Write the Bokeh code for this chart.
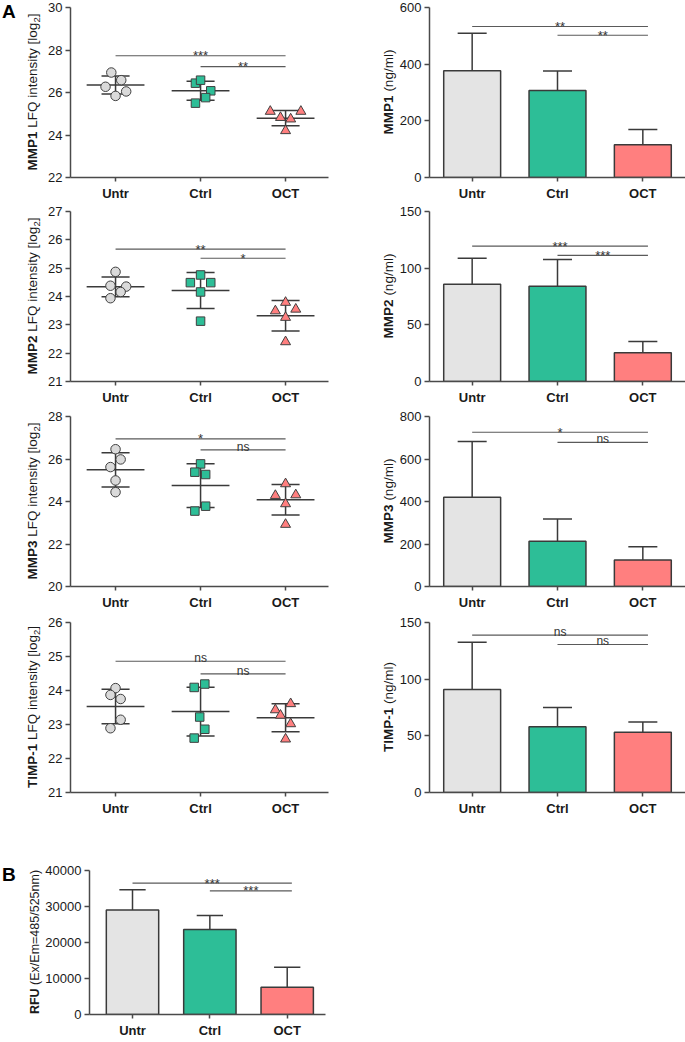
from bokeh.plotting import figure
from bokeh.models import Range1d, FixedTicker, Div
from bokeh.layouts import column, row
from bokeh.core.properties import value
from bokeh.embed import file_html
from bokeh.resources import INLINE

# ---------------- data ----------------
categories = ["Untr", "Ctrl", "OCT"]

# LFQ intensities (log2), 5 replicates per group
mmp1_lfq = [[26.94, 26.58, 26.27, 26.05, 25.84],
            [26.44, 26.58, 26.08, 25.76, 25.50],
            [25.11, 25.11, 24.82, 24.75, 24.20]]
mmp1_lfq_jitter = [[-0.05, 0.067, -0.118, 0.125, 0.0],
                   [-0.06, 0.0, 0.12, 0.06, -0.06],
                   [-0.18, 0.18, -0.06, 0.06, 0.0]]
mmp1_lfq_mean = [26.35, 26.08, 24.79]
mmp1_lfq_sd = [0.425, 0.45, 0.36]
mmp1_lfq_sig_y = [27.73, 27.22]
mmp1_lfq_sig = ["***", "**"]

mmp2_lfq = [[24.87, 24.38, 24.35, 24.16, 23.94],
            [24.76, 24.49, 24.49, 24.16, 23.13],
            [23.79, 23.49, 23.55, 23.26, 22.40]]
mmp2_lfq_jitter = [[0.0, -0.06, 0.125, 0.06, -0.06],
                   [0.0, -0.12, 0.12, 0.0, 0.0],
                   [0.0, -0.12, 0.12, 0.0, 0.0]]
mmp2_lfq_mean = [24.34, 24.21, 23.32]
mmp2_lfq_sd = [0.35, 0.635, 0.54]
mmp2_lfq_sig_y = [25.67, 25.35]
mmp2_lfq_sig = ["**", "*"]

mmp3_lfq = [[26.46, 25.98, 25.62, 24.99, 24.44],
            [25.77, 25.38, 25.27, 23.78, 23.55],
            [24.83, 24.28, 24.31, 23.89, 22.92]]
mmp3_lfq_jitter = [[0.0, 0.06, -0.06, 0.0, 0.0],
                   [0.0, -0.067, 0.06, 0.06, -0.067],
                   [0.0, -0.12, 0.12, 0.0, 0.0]]
mmp3_lfq_mean = [25.49, 24.75, 24.08]
mmp3_lfq_sd = [0.81, 1.03, 0.72]
mmp3_lfq_sig_y = [26.95, 26.43]
mmp3_lfq_sig = ["*", "ns"]

timp1_lfq = [[24.07, 23.87, 23.75, 23.14, 22.89],
             [24.09, 24.19, 23.22, 22.86, 22.60],
             [23.61, 23.43, 23.27, 23.02, 22.57]]
timp1_lfq_jitter = [[0.0, -0.06, 0.06, 0.06, -0.06],
                    [-0.075, 0.05, -0.01, 0.05, -0.075],
                    [0.06, -0.12, -0.06, 0.06, 0.0]]
timp1_lfq_mean = [23.53, 23.38, 23.20]
timp1_lfq_sd = [0.51, 0.715, 0.41]
timp1_lfq_sig_y = [24.86, 24.49]
timp1_lfq_sig = ["ns", "ns"]

# ELISA concentrations (ng/ml), mean and SD
mmp1_ng = [377, 307, 116]
mmp1_ng_sd = [132, 69, 53]
mmp1_ng_sig_y = [533, 502]
mmp1_ng_sig = ["**", "**"]

mmp2_ng = [85.9, 84.1, 25.3]
mmp2_ng_sd = [22.9, 23.5, 10.0]
mmp2_ng_sig_y = [119.4, 111.2]
mmp2_ng_sig = ["***", "***"]

mmp3_ng = [420, 213, 125]
mmp3_ng_sd = [262, 105, 62]
mmp3_ng_sig_y = [726, 678]
mmp3_ng_sig = ["*", "ns"]

timp1_ng = [90.9, 58.0, 53.2]
timp1_ng_sd = [41.7, 17.0, 8.9]
timp1_ng_sig_y = [138.8, 130.6]
timp1_ng_sig = ["ns", "ns"]

# Panel B: RFU
rfu = [29000, 23580, 7600]
rfu_sd = [5670, 3930, 5500]
rfu_sig_y = [36500, 34320]
rfu_sig = ["***", "***"]

# axis ticks
ticks_mmp1_lfq = [22, 24, 26, 28, 30]
ticks_mmp2_lfq = [21, 22, 23, 24, 25, 26, 27]
ticks_mmp3_lfq = [20, 22, 24, 26, 28]
ticks_timp1_lfq = [21, 22, 23, 24, 25, 26]
ticks_mmp1_ng = [0, 200, 400, 600]
ticks_mmp2_ng = [0, 50, 100, 150]
ticks_mmp3_ng = [0, 200, 400, 600, 800]
ticks_timp1_ng = [0, 50, 100, 150]
ticks_rfu = [0, 10000, 20000, 30000, 40000]

# ---------------- style ----------------
FONT = "Liberation Sans"
CSS_FONT = "'Liberation Sans', Arial, sans-serif"
AX = "#4a4a4a"
LINE = "#3a3a3a"
TXT = "#1a1a1a"
BAR_COLORS = ["#E4E4E4", "#2DBE97", "#FF7F7F"]
MARKERS = ["circle", "square", "triangle"]
MSIZE = [9.5, 8.5, 10]
MFILL = ["#DADADA", "#2DBE97", "#FF7F7F"]


def base_fig(xr, yr, fw, fh, bl, br, bt, bb, yticks):
    p = figure(frame_width=fw, frame_height=fh, x_range=Range1d(*xr), y_range=Range1d(*yr),
               min_border_left=bl, min_border_right=br, min_border_top=bt, min_border_bottom=bb,
               output_backend="svg", toolbar_location=None, tools="")
    p.outline_line_color = None
    p.xgrid.visible = False
    p.ygrid.visible = False
    p.background_fill_color = "white"
    p.border_fill_color = "white"
    p.xaxis.ticker = FixedTicker(ticks=[0, 1, 2])
    p.xaxis.major_label_overrides = {i: c for i, c in enumerate(categories)}
    p.yaxis.ticker = FixedTicker(ticks=yticks)
    for ax in (p.xaxis[0], p.yaxis[0]):
        ax.axis_line_color = AX
        ax.axis_line_width = 1.5
        ax.major_tick_line_color = AX
        ax.major_tick_line_width = 1.5
        ax.minor_tick_line_color = None
        ax.major_tick_in = 0
        ax.major_label_text_font = FONT
        ax.major_label_text_color = TXT
        ax.major_label_text_font_size = "13px"
        ax.axis_label_standoff = 0
    p.xaxis.major_tick_out = 4
    p.xaxis.major_label_standoff = 4
    p.xaxis.major_label_text_font_style = "bold"
    p.yaxis.major_tick_out = 5
    p.yaxis.major_label_standoff = 3
    return p


def rot_html(bold, rest_html, xc, yc, size):
    return (f'<div style="position:absolute; left:{xc}px; top:{yc}px; '
            f'transform:translate(-50%,-50%) rotate(-90deg); white-space:nowrap; '
            f'font-family:{CSS_FONT}; font-size:{size}px; line-height:1; color:{TXT};">'
            f'<b>{bold}</b> {rest_html}</div>')


def letter_html(letter, top):
    return (f'<div style="position:absolute; left:2px; top:{top}px; white-space:nowrap; '
            f'font-family:{CSS_FONT}; font-size:19px; font-weight:bold; line-height:19px; '
            f'color:#000;">{letter}</div>')


def label_div(w, h, inner):
    html = (f'<div style="position:relative; width:{w}px; height:{h}px; overflow:visible;">'
            f'{inner}</div>')
    return Div(text=html, width=w, height=h, margin=0)


def sig(p, ys, texts, ext, yr, fh):
    ppy = fh / (yr[1] - yr[0])
    spans = [(0, 2), (1, 2)]
    for y, t, (a, b) in zip(ys, texts, spans):
        p.segment(x0=[a], x1=[b + ext], y0=[y], y1=[y], line_color="#5a5a5a", line_width=1.2)
        mid = (a + b + ext) / 2.0
        if t == "ns":
            off, fs = 3.0, "12px"
        else:
            off, fs = 0.0, "13px"
        p.text(x=[mid], y=[y + off / ppy], text=[t], text_align="center",
               text_baseline="alphabetic", text_font=value(FONT), text_font_size=value(fs),
               text_color="#333333")


SX = (-0.53, 2.505)
SFW = 258
BX = (-0.5, 2.5)
BFW = 256
FH = 170


def scatter_panel(vals, jit, means, sds, sig_y, sig_t, yr, yticks, bt, bb):
    p = base_fig(SX, yr, SFW, FH, 26, 12, bt, bb, yticks)
    for i in range(3):
        m, s = means[i], sds[i]
        p.segment(x0=[i - 0.34, i - 0.165, i - 0.165, i], x1=[i + 0.34, i + 0.165, i + 0.165, i],
                  y0=[m, m + s, m - s, m - s], y1=[m, m + s, m - s, m + s],
                  line_color=LINE, line_width=1.5)
    for i in range(3):
        xs = [i + j for j in jit[i]]
        p.scatter(x=xs, y=vals[i], marker=MARKERS[i], size=MSIZE[i], fill_color=MFILL[i],
                  line_color="#404040", line_width=1)
    sig(p, sig_y, sig_t, 0.0, yr, FH)
    return p


def bar_panel(vals, sds, sig_y, sig_t, yr, yticks, bt, bb,
              xr=BX, fw=BFW, fh=FH, bl=31, br=2, width=0.667):
    p = base_fig(xr, yr, fw, fh, bl, br, bt, bb, yticks)
    xs = [0, 1, 2]
    tops = [v + s for v, s in zip(vals, sds)]
    p.segment(x0=xs, x1=xs, y0=vals, y1=tops, line_color=LINE, line_width=1.5)
    p.segment(x0=[x - 0.17 for x in xs], x1=[x + 0.17 for x in xs], y0=tops, y1=tops,
              line_color=LINE, line_width=1.5)
    p.vbar(x=xs, top=vals, bottom=0, width=width, fill_color=BAR_COLORS,
           line_color=LINE, line_width=1.5)
    sig(p, sig_y, sig_t, 0.06, yr, fh)
    return p


# row geometry: (top border, bottom border)
ROWS = [(7, 27), (7, 27), (8, 27), (9, 27)]
LAB_L_W = 44
LAB_R_W = 56
LOG2 = 'LFQ intensity [log<span style="font-size:9.5px; position:relative; top:3px;">2</span>]'

panels = [
    (mmp1_lfq, mmp1_lfq_jitter, mmp1_lfq_mean, mmp1_lfq_sd, mmp1_lfq_sig_y, mmp1_lfq_sig,
     (22, 30), ticks_mmp1_lfq, "MMP1",
     mmp1_ng, mmp1_ng_sd, mmp1_ng_sig_y, mmp1_ng_sig, (0, 600), ticks_mmp1_ng),
    (mmp2_lfq, mmp2_lfq_jitter, mmp2_lfq_mean, mmp2_lfq_sd, mmp2_lfq_sig_y, mmp2_lfq_sig,
     (21, 27), ticks_mmp2_lfq, "MMP2",
     mmp2_ng, mmp2_ng_sd, mmp2_ng_sig_y, mmp2_ng_sig, (0, 150), ticks_mmp2_ng),
    (mmp3_lfq, mmp3_lfq_jitter, mmp3_lfq_mean, mmp3_lfq_sd, mmp3_lfq_sig_y, mmp3_lfq_sig,
     (20, 28), ticks_mmp3_lfq, "MMP3",
     mmp3_ng, mmp3_ng_sd, mmp3_ng_sig_y, mmp3_ng_sig, (0, 800), ticks_mmp3_ng),
    (timp1_lfq, timp1_lfq_jitter, timp1_lfq_mean, timp1_lfq_sd, timp1_lfq_sig_y, timp1_lfq_sig,
     (21, 26), ticks_timp1_lfq, "TIMP-1",
     timp1_ng, timp1_ng_sd, timp1_ng_sig_y, timp1_ng_sig, (0, 150), ticks_timp1_ng),
]

rows = []
for k, (pn, (bt, bb)) in enumerate(zip(panels, ROWS)):
    (sv, sj, sm, ssd, ssy, sst, syr, syt, name, bv, bsd, bsy, bst, byr, byt) = pn
    h = bt + FH + bb
    s = scatter_panel(sv, sj, sm, ssd, ssy, sst, syr, syt, bt, bb)
    b = bar_panel(bv, bsd, bsy, bst, byr, byt, bt, bb)
    inner_l = rot_html(name, LOG2, 33, bt + FH / 2.0, 13.5)
    if k == 0:
        inner_l += letter_html("A", 1.5)
    ll = label_div(LAB_L_W, h, inner_l)
    lr = label_div(LAB_R_W, h, rot_html(name, "(ng/ml)", 49, bt + FH / 2.0, 13.5))
    rows.append(row(ll, s, lr, b))

# Panel B
B_BT, B_FH, B_BB = 51, 144, 27
BXB = (-0.556, 2.495)
hb = B_BT + B_FH + B_BB
pb = bar_panel(rfu, rfu_sd, rfu_sig_y, rfu_sig, (0, 40000), ticks_rfu, B_BT, B_BB,
               xr=BXB, fw=236, fh=B_FH, bl=46, br=10, width=0.677)
inner_b = rot_html("RFU", "(Ex/Em=485/525nm)", 35, B_BT + B_FH / 2.0, 12.5)
inner_b += letter_html("B", 45.5)
lb = label_div(42, hb, inner_b)
rows.append(row(lb, pb))

layout = column(*rows)

open("out.html", "w").write(file_html(layout, INLINE))
